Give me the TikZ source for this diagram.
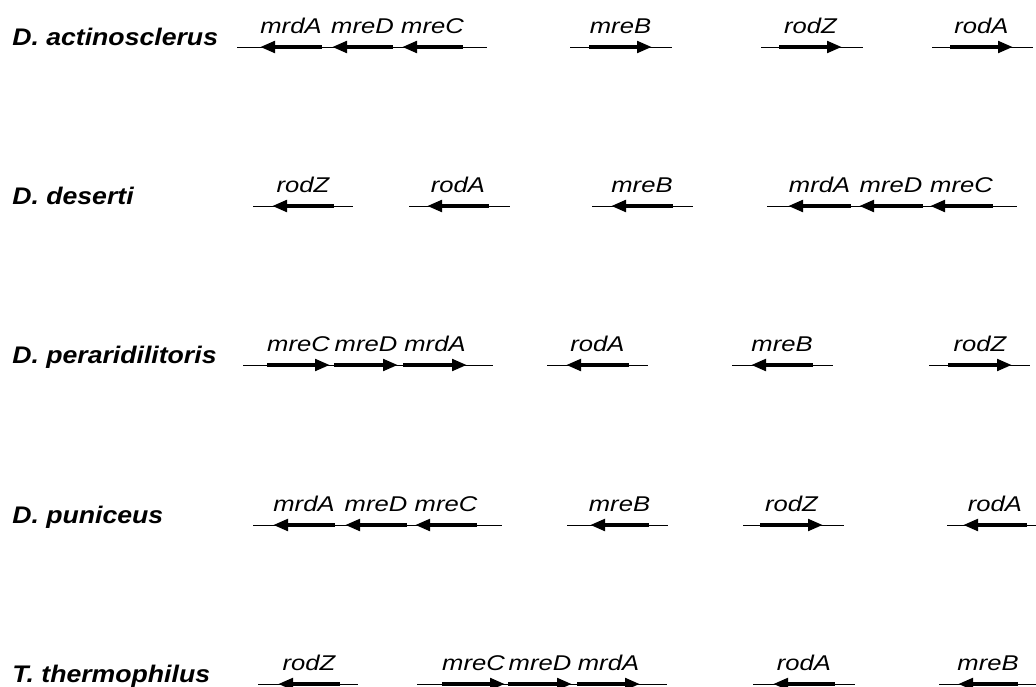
\documentclass[tikz,border=0pt]{standalone}
\usepackage{fontspec}
\setmainfont{Liberation Sans}
\usetikzlibrary{arrows.meta}
\tikzstyle{species}=[font=\fontsize{18}{20}\selectfont\bfseries\itshape, anchor=base west, inner sep=0pt, xscale=1.11]
\tikzstyle{genename}=[font=\fontsize{16}{18}\selectfont\itshape, anchor=base, inner sep=0pt, xscale=1.2]
\tikzstyle{backbone}=[draw, line width=0.75pt]
\tikzstyle{gene}=[draw, line width=3pt, -{Triangle[length=11.25pt,width=8.5pt]}]

\begin{document}
\begin{tikzpicture}[x=0.75pt, y=-0.75pt]

    \useasboundingbox (0,0) rectangle (1036,686);
    \clip (0,0) rectangle (1036,686);

    % species names
    \foreach \y/\name/\txt in {47/sp1/{D. actinosclerus}, 206/sp2/{D. deserti}, 365/sp3/{D. peraridilitoris},
                               525/sp4/{D. puniceus}, 684/sp5/{T. thermophilus}}
        \node[species] (\name) at (12,\y-2) {\txt};

    % chromosome segments
    \foreach \y/\a/\b in {47/237/487, 47/570/672, 47/761/863, 47/932/1033,
                          206/253/353, 206/409/510, 206/592/693, 206/767/1017,
                          365/243/493, 365/547/648, 365/732/833, 365/929/1030,
                          525/253/502, 525/567/668, 525/743/844, 525/947/1040,
                          684/258/358, 684/417/667, 684/753/855, 684/939/1040}
    {
        \coordinate (bbL) at (\a,\y);
        \coordinate (bbR) at (\b,\y);
        \draw[backbone] (bbL) -- (bbR);
    }

    % genes: tail / head
    \foreach \y/\tail/\tip/\gname/\id in {
        47/322/260/mrdA/a1, 47/393/332/mreD/a2, 47/463/402/mreC/a3,
        47/589/652/mreB/a4, 47/779/842/rodZ/a5, 47/950/1013/rodA/a6,
        206/334/272/rodZ/b1, 206/489/427/rodA/b2, 206/673/611/mreB/b3,
        206/851/788/mrdA/b4, 206/923/859/mreD/b5, 206/993/930/mreC/b6,
        365/267/330/mreC/c1, 365/334/398/mreD/c2, 365/403/467/mrdA/c3,
        365/629/566/rodA/c4, 365/813/751/mreB/c5, 365/948/1012/rodZ/c6,
        525/335/273/mrdA/d1, 525/407/345/mreD/d2, 525/477/415/mreC/d3,
        525/649/590/mreB/d4, 525/760/823/rodZ/d5, 525/1027/963/rodA/d6,
        684/340/278/rodZ/e1, 684/442/505/mreC/e2, 684/508/572/mreD/e3,
        684/577/640/mrdA/e4, 684/835/773/rodA/e5, 684/1018/958/mreB/e6}
    {
        \coordinate (\id t) at (\tail,\y);
        \coordinate (\id h) at (\tip,\y);
        \draw[gene] (\id t) -- (\id h);
        \node[genename] (\id) at ({(\tail+\tip)/2},\y-14) {\gname};
    }

\end{tikzpicture}
\end{document}
